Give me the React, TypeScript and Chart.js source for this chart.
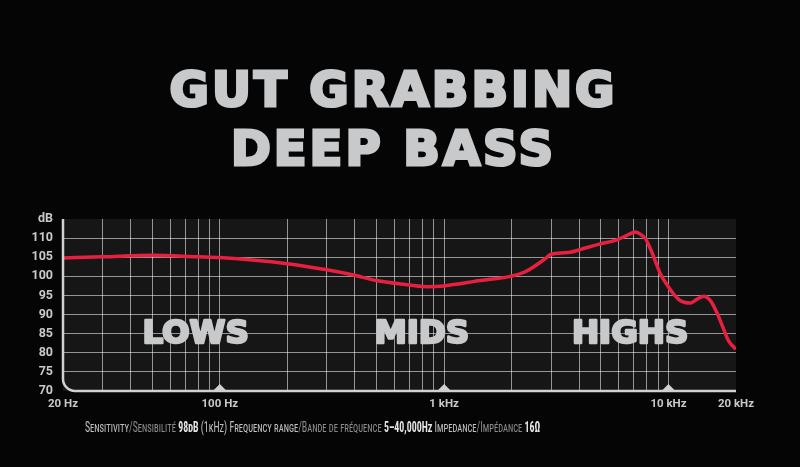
import { useEffect, useRef } from "react";
import { Chart, registerables } from "chart.js";

Chart.register(...registerables);

// Frequency response (Hz) and level (dB)
const FREQS = [20, 30, 50, 80, 100, 200, 300, 390, 500, 640, 840, 1000, 1450, 1970, 2300, 2820, 2970, 3300, 3650, 4040, 4970, 5800, 6420, 7120, 7460, 7900, 8310, 8760, 9210, 9900, 10530, 11310, 12540, 13480, 14340, 15400, 16560, 17610, 18540, 20000];
const LEVELS = [104.8, 105.1, 105.5, 105.1, 104.9, 103.3, 101.7, 100.4, 98.9, 98.0, 97.3, 97.5, 98.9, 100.0, 101.2, 104.6, 105.7, 106.1, 106.3, 107.0, 108.5, 109.4, 110.5, 111.6, 111.1, 109.8, 107.2, 103.8, 100.6, 97.6, 95.4, 93.6, 93.0, 94.1, 94.8, 93.6, 90.1, 86.2, 83.1, 80.9];

const GRID_FREQS = [20, 30, 40, 50, 60, 70, 80, 90, 100, 200, 300, 400, 500, 600, 700, 800, 900, 1000, 2000, 3000, 4000, 5000, 6000, 7000, 8000, 9000, 10000, 20000];
const X_LABEL_FREQS = [20, 100, 1000, 10000, 20000];
const X_LABELS = ["20 Hz", "100 Hz", "1 kHz", "10 kHz", "20 kHz"];
const Y_TICKS = [70, 75, 80, 85, 90, 95, 100, 105, 110, 115];
const Y_UNIT = "dB";
const MARKER_FREQS = [100, 1000, 10000];
const ZONE_LABELS = ["LOWS", "MIDS", "HIGHS"];
const ZONE_FREQS = [78, 795, 6750];
const ZONE_LEVEL = 85.7;

const TITLE_LINES = ["GUT GRABBING", "DEEP BASS"];

const PAGE_BG = "#050505";
const PLOT_BG = "#161616";
const GRID = "rgba(255,255,255,0.55)";
const AXIS = "#cfd0d1";
const TEXT = "#c8c9cb";
const RED = "#e8203f";
const HEAVY = "'DejaVu Sans', 'Liberation Sans', sans-serif";

export default function App() {
  const ref = useRef<HTMLCanvasElement>(null);

  useEffect(() => {
    const decorPlugin = {
      id: "decor",
      beforeDraw(chart: any) {
        const { ctx, chartArea: a } = chart;
        ctx.save();
        ctx.fillStyle = PAGE_BG;
        ctx.fillRect(0, 0, chart.width, chart.height);
        ctx.fillStyle = PLOT_BG;
        ctx.fillRect(a.left, a.top, a.right - a.left, a.bottom - a.top);
        ctx.restore();
      },
      beforeDatasetsDraw(chart: any) {
        const { ctx, scales } = chart;
        ctx.save();
        const fs = 32.5;
        ctx.font = `bold ${fs}px ${HEAVY}`;
        ctx.fillStyle = TEXT;
        ctx.strokeStyle = TEXT;
        ctx.lineWidth = 2.5;
        ctx.lineJoin = "round";
        ctx.textAlign = "center";
        ctx.textBaseline = "alphabetic";
        ZONE_LABELS.forEach((t, i) => {
          const x = scales.x.getPixelForValue(ZONE_FREQS[i]);
          const y = scales.y.getPixelForValue(ZONE_LEVEL) + fs * 0.365;
          ctx.strokeText(t, x, y);
          ctx.fillText(t, x, y);
        });
        ctx.restore();
      },
      afterDatasetsDraw(chart: any) {
        const { ctx, chartArea: a, scales } = chart;
        ctx.save();
        const r = 12;
        ctx.strokeStyle = AXIS;
        ctx.lineWidth = 2.5;
        ctx.beginPath();
        ctx.moveTo(a.left, a.top);
        ctx.lineTo(a.left, a.bottom - r);
        ctx.arcTo(a.left, a.bottom, a.left + r, a.bottom, r);
        ctx.lineTo(a.right, a.bottom);
        ctx.stroke();
        ctx.fillStyle = AXIS;
        MARKER_FREQS.forEach((f) => {
          const x = scales.x.getPixelForValue(f);
          ctx.beginPath();
          ctx.moveTo(x - 7, a.bottom);
          ctx.lineTo(x, a.bottom - 7);
          ctx.lineTo(x + 7, a.bottom);
          ctx.closePath();
          ctx.fill();
        });
        ctx.restore();
      },
    };

    const chart = new Chart(ref.current!, {
      type: "line",
      data: {
        datasets: [
          {
            data: FREQS.map((f, i) => ({ x: f, y: LEVELS[i] })),
            borderColor: RED,
            borderWidth: 3.5,
            pointRadius: 0,
            cubicInterpolationMode: "monotone",
            fill: false,
          },
        ],
      },
      options: {
        animation: false,
        responsive: false,
        devicePixelRatio: 1,
        layout: { padding: { top: 219, right: 64, bottom: 36, left: 0 } },
        plugins: { legend: { display: false }, tooltip: { enabled: false } },
        scales: {
          x: {
            type: "logarithmic",
            min: 20,
            max: 20000,
            afterBuildTicks: (s: any) => {
              s.ticks = GRID_FREQS.map((v) => ({ value: v }));
            },
            afterFit: (s: any) => {
              s.height = 40;
            },
            ticks: {
              autoSkip: false,
              maxRotation: 0,
              padding: 6,
              color: TEXT,
              font: { family: "Roboto, 'Liberation Sans', sans-serif", size: 11.5, weight: "bold" },
              callback: (v: any) => {
                const i = X_LABEL_FREQS.indexOf(Number(v));
                return i >= 0 ? X_LABELS[i] : "";
              },
            },
            grid: {
              drawTicks: false,
              lineWidth: 1,
              color: (c: any) => (c.tick && (c.tick.value === 20 || c.tick.value === 20000) ? "rgba(0,0,0,0)" : GRID),
            },
            border: { display: false },
          },
          y: {
            min: 70,
            max: 115,
            afterBuildTicks: (s: any) => {
              s.ticks = Y_TICKS.map((v) => ({ value: v }));
            },
            afterFit: (s: any) => {
              s.width = 63;
            },
            ticks: {
              padding: 10,
              color: TEXT,
              font: { family: "Roboto, 'Liberation Sans', sans-serif", size: 12.5, weight: "bold" },
              callback: (v: any) => (Number(v) === 115 ? Y_UNIT : String(v)),
            },
            grid: {
              drawTicks: false,
              lineWidth: 1,
              color: (c: any) => (c.tick && (c.tick.value === 115 || c.tick.value === 70) ? "rgba(0,0,0,0)" : GRID),
            },
            border: { display: false },
          },
        },
      },
      plugins: [decorPlugin],
    } as any);
    return () => chart.destroy();
  }, []);

  const titleStyle = (top: number): any => ({
    position: "absolute",
    left: 0,
    width: 787,
    top,
    textAlign: "center",
    fontFamily: HEAVY,
    fontWeight: 700,
    fontSize: 48,
    lineHeight: "52px",
    letterSpacing: "3px",
    color: TEXT,
    WebkitTextStroke: `3px ${TEXT}`,
    paintOrder: "stroke fill",
    whiteSpace: "nowrap",
  });

  const light = { color: "#bfc0c1" };
  const dim = { color: "#8a8b8c" };
  const bold = { color: "#e4e5e6", fontWeight: 700 };

  return (
    <div style={{ position: "fixed", left: 0, top: 0, width: 800, height: 467, background: PAGE_BG, overflow: "hidden" }}>
      <canvas ref={ref} width={800} height={467} style={{ position: "absolute", left: 0, top: 0, width: 800, height: 467 }} />
      <div style={titleStyle(63)}>{TITLE_LINES[0]}</div>
      <div style={titleStyle(122)}>{TITLE_LINES[1]}</div>
      <div
        style={{
          position: "absolute",
          left: 85,
          top: 418,
          fontFamily: "'Liberation Sans Narrow', 'Roboto Condensed', 'DejaVu Sans Condensed', sans-serif",
          fontSize: 14,
          lineHeight: "18px",
          fontVariant: "small-caps",
          whiteSpace: "nowrap",
          transform: "scaleX(0.705)",
          transformOrigin: "0 0",
        }}
      >
        <span style={light}>Sensitivity</span>
        <span style={dim}>/Sensibilité</span> <span style={bold}>98dB</span>{" "}
        <span style={light}>(1kHz) Frequency range</span>
        <span style={dim}>/Bande de fréquence</span> <span style={bold}>5–40,000Hz</span>{" "}
        <span style={light}>Impedance</span>
        <span style={dim}>/Impédance</span> <span style={bold}>16Ω</span>
      </div>
    </div>
  );
}
